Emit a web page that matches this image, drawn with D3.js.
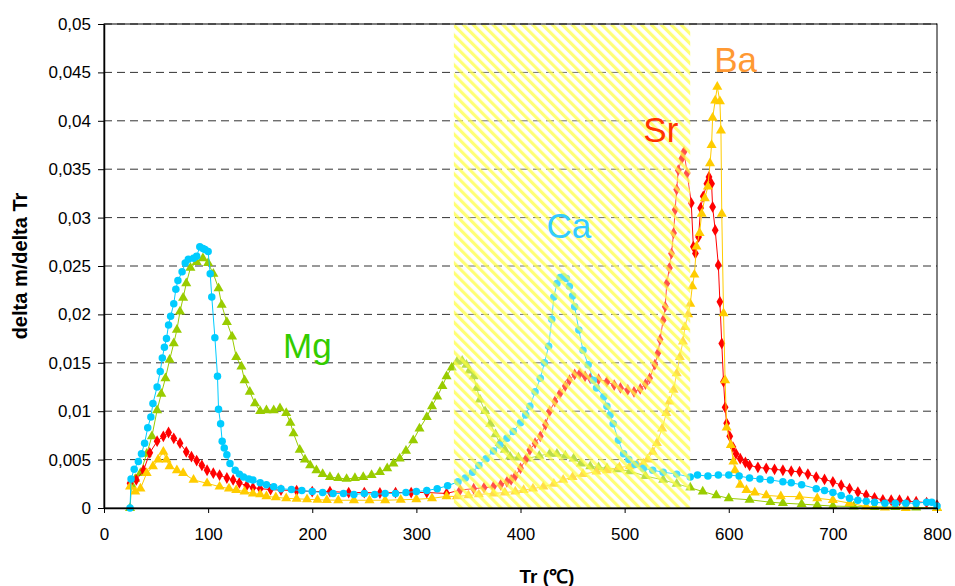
<!DOCTYPE html>
<html>
<head>
<meta charset="utf-8">
<script src="https://cdn.jsdelivr.net/npm/d3@7"></script>
<style>
  body { margin: 0; background: #fff; }
  text { font-family: "Liberation Sans", Arial, sans-serif; }
</style>
</head>
<body>
<svg id="chart" width="955" height="586"></svg>
<script>
// tick values
const xTicks = [0, 100, 200, 300, 400, 500, 600, 700, 800]
const yTicks = [0, 0.005, 0.01, 0.015, 0.02, 0.025, 0.03, 0.035, 0.04, 0.045, 0.05]

// shaded temperature window (Tr)
const hatchRange = [336, 563]

// [Tr, delta m/delta Tr]
const mgData = [[25,0],[26.5,0.0024],[30,0.0030],[35,0.0036],[41,0.0056],[46,0.0074],[51,0.0101],[55,0.0118],[59,0.0134],[63,0.0153],[67,0.0170],[70,0.0184],[73,0.0203],[76,0.0217],[79,0.0232],[83,0.0248],[89,0.0254],[95,0.0258],[100,0.0253],[105,0.0242],[110,0.0227],[113,0.0210],[118,0.0192],[123,0.0177],[127,0.0156],[132,0.0146],[135,0.0132],[140,0.0120],[145,0.0108],[150,0.0100],[156,0.0101],[163,0.0101],[169,0.0103],[175,0.0098],[179,0.0088],[182,0.0077],[188,0.0060],[193,0.0050],[198,0.0044],[204,0.0039],[210,0.0035],[217,0.0032],[225,0.0031],[233,0.0030],[241,0.0031],[249,0.0032],[257,0.0034],[265,0.0037],[272,0.0041],[278,0.0046],[284,0.0051],[290,0.0059],[297,0.0070],[303,0.0082],[310,0.0094],[315,0.0105],[320,0.0115],[325,0.0126],[329,0.0136],[334,0.0145],[339,0.0151],[344,0.0152],[348,0.0148],[351,0.0142],[355,0.0136],[358,0.0124],[361,0.0112],[366,0.0100],[371,0.0087],[376,0.0076],[380,0.0067],[385,0.0060],[390,0.0053],[398,0.0052],[406,0.0051],[418,0.0054],[428,0.0056],[435,0.0056],[443,0.0054],[451,0.0051],[458,0.0046],[467,0.0043],[475,0.0042],[483,0.0041],[493,0.0040],[505,0.0038],[520,0.0033],[537,0.0029],[550,0.0025],[563,0.0021],[575,0.0017],[588,0.0013],[600,0.0010],[620,0.00085],[640,0.0006],[652,0.0005],[670,0.0004],[685,0.0003],[700,0.0002],[720,0.00015],[740,0.0001],[760,0.0001],[780,0.00005],[800,0]]

const caData = [[25,0],[26,0.0030],[29,0.0040],[33,0.0048],[36,0.0056],[39,0.0067],[42,0.0083],[45,0.0094],[47,0.0108],[51,0.0125],[54,0.0141],[56,0.0155],[58,0.0166],[60,0.0175],[62,0.0189],[64,0.0198],[67,0.0211],[69,0.0226],[71,0.0235],[75,0.0244],[78,0.0253],[81,0.0257],[86,0.0258],[89,0.0260],[92,0.0270],[95,0.0268],[97,0.0267],[100,0.0265],[102,0.0242],[103.5,0.0218],[106.5,0.0176],[109,0.0136],[110,0.0102],[112,0.0087],[113.5,0.0069],[115.5,0.0062],[118,0.0055],[121,0.0046],[126,0.0039],[130,0.0035],[134,0.0032],[139,0.0030],[143,0.0029],[150,0.0026],[156,0.0024],[163,0.0022],[170,0.0020],[180,0.0019],[190,0.0018],[200,0.0017],[210,0.0016],[220,0.0015],[230,0.0015],[240,0.0014],[250,0.0015],[260,0.0014],[270,0.0015],[280,0.0015],[290,0.0016],[300,0.0017],[310,0.0018],[320,0.0020],[330,0.0023],[340,0.0027],[347,0.0031],[354,0.0037],[360,0.0044],[367,0.0051],[374,0.0059],[380,0.0065],[387,0.0072],[393,0.0079],[400,0.0088],[405,0.0096],[409,0.0105],[414,0.0120],[419,0.0134],[423,0.0150],[427,0.0167],[430,0.0195],[432,0.0218],[435,0.0232],[438,0.0238],[441,0.0239],[444,0.0237],[447,0.0229],[450,0.0219],[452,0.0208],[456,0.0184],[460,0.0163],[465,0.0148],[470,0.0132],[473,0.0124],[480,0.0115],[483,0.0105],[486,0.0096],[489,0.0087],[494,0.0070],[499,0.0056],[504,0.0050],[510,0.0045],[518,0.0041],[527,0.0039],[537,0.0037],[550,0.0035],[563,0.0032],[570,0.0034],[580,0.0033],[590,0.0034],[600,0.0034],[610,0.0033],[620,0.0031],[630,0.0030],[640,0.0029],[652,0.0027],[660,0.0026],[670,0.0024],[684,0.0020],[692,0.0018],[700,0.0016],[708,0.0013],[716,0.0010],[724,0.0008],[732,0.0007],[740,0.0006],[750,0.0005],[760,0.0005],[770,0.0005],[780,0.0005],[790,0.0006],[795,0.0006],[800,0.0002]]

const srData = [[25,0.00255],[31,0.0029],[38,0.0039],[44,0.0057],[51,0.0069],[57,0.0074],[62,0.0078],[67,0.0072],[73,0.0067],[79,0.0058],[84,0.0053],[89,0.0049],[94,0.0044],[99,0.0039],[105,0.0036],[111,0.0034],[118,0.0031],[124,0.0029],[130,0.0026],[137,0.0023],[143,0.0021],[150,0.0020],[160,0.0019],[170,0.00185],[185,0.0018],[200,0.0017],[217,0.0017],[235,0.0016],[250,0.0016],[265,0.00155],[280,0.0016],[295,0.0016],[310,0.0016],[329,0.0015],[342,0.00185],[355,0.0020],[365,0.0021],[374,0.0022],[381,0.0024],[387,0.0027],[391,0.0029],[395,0.0033],[400,0.0041],[405,0.0050],[409,0.0060],[414,0.0067],[419,0.0074],[424,0.0086],[428,0.0100],[433,0.0110],[438,0.01185],[443,0.0126],[447,0.0132],[452,0.0138],[457,0.0139],[462,0.0136],[467,0.0134],[475,0.0133],[483,0.01305],[490,0.0127],[496,0.0124],[503,0.0122],[509,0.0120],[515,0.0123],[520,0.0128],[524,0.0134],[529,0.0148],[532,0.0160],[534,0.0174],[537,0.0194],[539,0.0208],[540.5,0.0232],[543,0.0248],[545,0.0263],[547,0.0284],[548.5,0.0308],[550,0.0329],[551.5,0.0349],[555,0.0361],[557,0.0368],[560,0.0346],[564,0.0315],[566,0.0270],[568,0.0263],[571,0.0280],[573,0.0310],[575.5,0.0322],[579,0.0335],[581,0.0342],[583.5,0.0335],[584.5,0.0311],[587,0.0287],[590,0.0251],[591.5,0.0213],[593.3,0.0170],[595,0.01305],[596.5,0.0104],[598,0.00875],[601,0.0074],[604,0.0063],[607,0.0056],[611,0.0051],[616,0.0047],[620,0.0044],[628,0.0042],[636,0.0041],[644,0.0040],[652,0.0039],[660,0.0038],[668,0.00375],[676,0.0035],[684,0.0032],[692,0.00295],[700,0.0027],[708,0.00235],[716,0.0020],[724,0.00165],[732,0.00134],[740,0.00105],[748,0.00083],[756,0.0008],[764,0.0008],[772,0.0007],[780,0.00065],[790,0.00055],[800,0.0003]]

const baData = [[25,0.0022],[30,0.0017],[35,0.0020],[41,0.0036],[47,0.0043],[52,0.0050],[57,0.0058],[60,0.0050],[63,0.0043],[70,0.0039],[76,0.0036],[86,0.0029],[99,0.00255],[111,0.0022],[120,0.0020],[127,0.00186],[135,0.0017],[143,0.0015],[150,0.0014],[156,0.0012],[165,0.0011],[175,0.0010],[185,0.00095],[195,0.0009],[205,0.00085],[214,0.00083],[225,0.0008],[240,0.0008],[255,0.0008],[270,0.0008],[285,0.00085],[300,0.0009],[315,0.0010],[329,0.0012],[339,0.0012],[350,0.0013],[360,0.0014],[374,0.0015],[385,0.0016],[395,0.0017],[403,0.00186],[412,0.0020],[422,0.0022],[432,0.0025],[441,0.0029],[450,0.0032],[460,0.0035],[473,0.00375],[483,0.0039],[495,0.0042],[505,0.0043],[512,0.0045],[518,0.0046],[522,0.0050],[527,0.0058],[531,0.0067],[536,0.0082],[540,0.0098],[543,0.0110],[547,0.0122],[550,0.0139],[553,0.0156],[556,0.0172],[558,0.0187],[561,0.0200],[563,0.0211],[565,0.0229],[567,0.0241],[569,0.0270],[572,0.0284],[574,0.0304],[577,0.0320],[580,0.0332],[582,0.0356],[583.5,0.0375],[584.5,0.0403],[587,0.0421],[589,0.0435],[591.5,0.0420],[592.5,0.0390],[593.3,0.0304],[595,0.0201],[596.5,0.0132],[598,0.0083],[602,0.0065],[604.5,0.0048],[606,0.0039],[611,0.0024],[617,0.00186],[625,0.0016],[636,0.0013],[650,0.0012],[668,0.00117],[685,0.0010],[700,0.00083],[716,0.0005],[732,0.00015],[750,0.00005],[770,0],[800,0]]

const series = [
  {name: 'Mg', data: mgData, color: '#99cc00', symbol: d3.symbolTriangle, size: 44},
  {name: 'Sr', data: srData, color: '#ff0000', symbol: d3.symbolDiamond, size: 40},
  {name: 'Ba', data: baData, color: '#ffcc00', symbol: d3.symbolTriangle, size: 44},
  {name: 'Ca', data: caData, color: '#00ccff', symbol: d3.symbolCircle, size: 44}
]

// label anchors in data units
const labels = [
  {text: 'Mg', t: 172, v: 0.0155, color: '#33cc00'},
  {text: 'Ca', t: 425, v: 0.0279, color: '#33ccff'},
  {text: 'Sr', t: 518, v: 0.0378, color: '#ff3300'},
  {text: 'Ba', t: 586, v: 0.0450, color: '#ff9933'}
]

const margin = {top: 24, right: 18, bottom: 78, left: 104}
const svg = d3.select('#chart')
const width = 955 - margin.left - margin.right
const height = 586 - margin.top - margin.bottom
const g = svg.append('g').attr('transform', `translate(${margin.left},${margin.top})`)

const x = d3.scaleLinear().domain([0, 800]).range([0, width])
const y = d3.scaleLinear().domain([0, 0.05]).range([height, 0])

function fmtY(v) {
  return v === 0 ? '0' : String(v).replace('.', ',')
}

// hatch pattern
const defs = svg.append('defs')
const pat = defs.append('pattern')
  .attr('id', 'hatch')
  .attr('patternUnits', 'userSpaceOnUse')
  .attr('width', 7)
  .attr('height', 7)
  .attr('patternTransform', 'rotate(-45)')
pat.append('rect').attr('width', 7).attr('height', 7).attr('fill', '#ffffff').attr('fill-opacity', 0.3)
pat.append('rect').attr('width', 3.2).attr('height', 7).attr('fill', '#ffff40').attr('fill-opacity', 0.72)

// gridlines
g.append('g')
  .selectAll('line')
  .data(yTicks.filter(d => d > 0))
  .enter()
  .append('line')
  .attr('x1', 0)
  .attr('x2', width)
  .attr('y1', d => y(d))
  .attr('y2', d => y(d))
  .attr('stroke', '#333')
  .attr('stroke-width', 1)
  .attr('stroke-dasharray', '8,5')

// series
series.forEach(s => {
  const sg = g.append('g').attr('class', 'series-' + s.name)
  sg.append('path')
    .datum(s.data)
    .attr('fill', 'none')
    .attr('stroke', s.color)
    .attr('stroke-width', 1)
    .attr('d', d3.line().x(d => x(d[0])).y(d => y(d[1])))
  sg.selectAll('path.mark')
    .data(s.data)
    .enter()
    .append('path')
    .attr('class', 'mark')
    .attr('transform', d => `translate(${x(d[0])},${y(d[1])})`)
    .attr('d', d3.symbol().type(s.symbol).size(s.size))
    .attr('fill', s.color)
})

// hatched window on top of the curves
g.append('rect')
  .attr('x', x(hatchRange[0]))
  .attr('y', 1)
  .attr('width', x(hatchRange[1]) - x(hatchRange[0]))
  .attr('height', height - 1)
  .attr('fill', 'url(#hatch)')

// plot border
g.append('rect')
  .attr('width', width)
  .attr('height', height)
  .attr('fill', 'none')
  .attr('stroke', '#000')
  .attr('stroke-width', 1)

// axes
g.append('g')
  .attr('transform', `translate(0,${height})`)
  .call(d3.axisBottom(x).tickValues(xTicks).tickSize(5).tickPadding(15).tickSizeOuter(0))
g.append('g')
  .call(d3.axisLeft(y).tickValues(yTicks).tickFormat(fmtY).tickSize(6).tickPadding(7).tickSizeOuter(0))

svg.selectAll('.tick text')
  .attr('font-family', '"Liberation Sans", Arial, sans-serif')
  .attr('font-size', 17)
  .attr('fill', '#000')
svg.selectAll('.domain').attr('stroke', '#000').attr('stroke-width', 1.5)

// axis titles
svg.append('text')
  .attr('x', 547)
  .attr('y', 583)
  .attr('text-anchor', 'middle')
  .attr('font-weight', 'bold')
  .attr('font-size', 19)
  .text('Tr (℃)')

svg.append('text')
  .attr('transform', `translate(27,${margin.top + height / 2}) rotate(-90)`)
  .attr('text-anchor', 'middle')
  .attr('font-weight', 'bold')
  .attr('font-size', 20)
  .text('delta m/delta Tr')

// element labels
g.append('g')
  .selectAll('text')
  .data(labels)
  .enter()
  .append('text')
  .attr('x', d => x(d.t))
  .attr('y', d => y(d.v))
  .attr('font-size', 35)
  .attr('fill', d => d.color)
  .text(d => d.text)
</script>
</body>
</html>
